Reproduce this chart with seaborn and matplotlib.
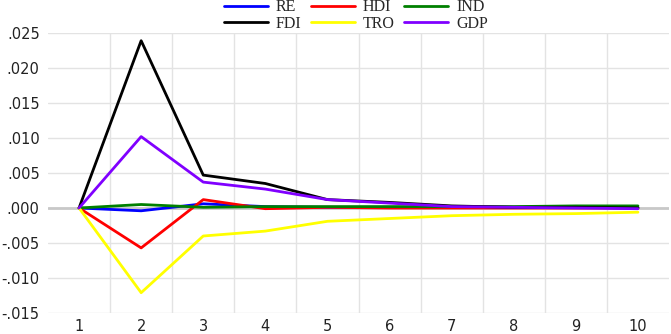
import numpy as np
import pandas as pd
import matplotlib
matplotlib.use("Agg")
import matplotlib.pyplot as plt
from matplotlib.ticker import FuncFormatter, FixedLocator
from matplotlib.lines import Line2D
import seaborn as sns

periods = [1, 2, 3, 4, 5, 6, 7, 8, 9, 10]
RE  = [0.0, -0.0004, 0.0006, 0.0002, 0.0001, 0.0001, 0.0001, 0.0001, 0.0001, 0.0001]
HDI = [0.0, -0.0057, 0.0012, -0.0001, 0.0001, 0.0000, 0.0000, 0.0000, 0.0000, 0.0000]
IND = [0.0, 0.0005, 0.0001, 0.0002, 0.0002, 0.0002, 0.0002, 0.0002, 0.0003, 0.0003]
FDI = [0.0, 0.0239, 0.0047, 0.0035, 0.0012, 0.0008, 0.0003, 0.0001, 0.0001, 0.0000]
TRO = [0.0, -0.0121, -0.0040, -0.0033, -0.0019, -0.0015, -0.0011, -0.0009, -0.0008, -0.0006]
GDP = [0.0, 0.0102, 0.0037, 0.0027, 0.0012, 0.0007, 0.0002, 0.0001, 0.0000, -0.0001]

series_names = ["RE", "HDI", "IND", "FDI", "TRO", "GDP"]
series_vals = [RE, HDI, IND, FDI, TRO, GDP]
colors = {"RE": "#0000FF", "HDI": "#FF0000", "IND": "#008000",
          "FDI": "#000000", "TRO": "#FFFF00", "GDP": "#8000FF"}
yticks = [-0.015, -0.010, -0.005, 0.000, 0.005, 0.010, 0.015, 0.020, 0.025]

df = pd.DataFrame({
    "period": np.tile(periods, len(series_names)),
    "value": np.concatenate(series_vals),
    "series": np.repeat(series_names, len(periods)),
})

sns.set_style("white")
plt.rcParams["font.family"] = ["DejaVu Sans"]

fig = plt.figure(figsize=(6.71, 3.34), dpi=100)
ax = fig.add_axes([48 / 671, 1 - 313 / 334, (669 - 48) / 671, (313 - 33) / 334])

ax.set_xlim(0.5, 10.5)
ax.set_ylim(-0.015, 0.025)
ax.set_yticks(yticks)
ax.set_xticks(periods)
ax.xaxis.set_minor_locator(FixedLocator([p + 0.5 for p in periods[:-1]]))
ax.grid(False)
ax.grid(True, axis="y", which="major", color="#e3e3e3", linewidth=1.0)
ax.grid(True, axis="x", which="minor", color="#e3e3e3", linewidth=1.0)
ax.set_axisbelow(True)
ax.axhline(0, color="#c8c8c8", linewidth=2.0, zorder=1)

sns.lineplot(data=df, x="period", y="value", hue="series", hue_order=series_names,
             palette=colors, linewidth=2.0, ax=ax, legend=False, zorder=3)

for s in ax.spines.values():
    s.set_visible(False)

def fmt(v, pos):
    s = f"{v:.3f}"
    if s.startswith("-0"):
        s = "-" + s[2:]
    elif s.startswith("0"):
        s = s[1:]
    if s == "-.000":
        s = ".000"
    return s

ax.yaxis.set_major_formatter(FuncFormatter(fmt))
ax.tick_params(axis="y", which="both", length=0, pad=6, labelsize=10.5, labelcolor="#222222")
ax.tick_params(axis="x", which="both", length=0, pad=4, labelsize=10.5, labelcolor="#222222")
ax.set_xlabel("")
ax.set_ylabel("")

order = ["RE", "FDI", "HDI", "TRO", "IND", "GDP"]
handles = [Line2D([0], [0], color=colors[n], linewidth=2.0) for n in order]
fig.legend(handles, order, loc="center", bbox_to_anchor=(356 / 671, 1 - 15.5 / 334),
           ncol=3, frameon=False, handlelength=2.75, handletextpad=0.5,
           columnspacing=0.6, labelspacing=0.05, borderpad=0,
           prop={"family": "Liberation Serif", "size": 11.5})

fig.savefig("out.png", dpi=100)
